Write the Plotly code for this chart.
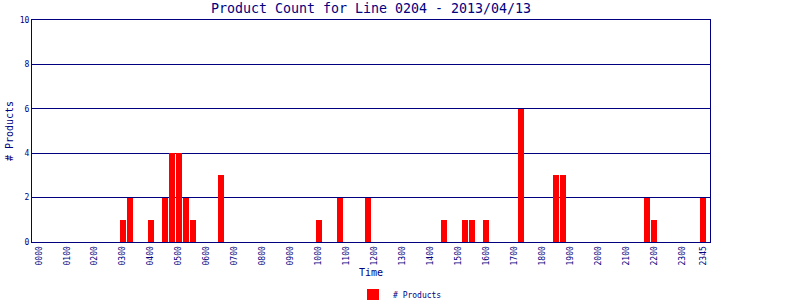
import plotly.graph_objects as go

# 15-minute bins from 0000 to 2345 (96 bins)
counts = [
    0, 0, 0, 0,   0, 0, 0, 0,   0, 0, 0, 0,   # 00-02
    1, 2, 0, 0,   1, 0, 2, 4,   4, 2, 1, 0,   # 03-05
    0, 0, 3, 0,   0, 0, 0, 0,   0, 0, 0, 0,   # 06-08
    0, 0, 0, 0,   1, 0, 0, 2,   0, 0, 0, 2,   # 09-11
    0, 0, 0, 0,   0, 0, 0, 0,   0, 0, 1, 0,   # 12-14
    0, 1, 1, 0,   1, 0, 0, 0,   0, 6, 0, 0,   # 15-17
    0, 0, 3, 3,   0, 0, 0, 0,   0, 0, 0, 0,   # 18-20
    0, 0, 0, 2,   1, 0, 0, 0,   0, 0, 0, 2,   # 21-23
]
bin_index = list(range(96))
tick_positions = [0, 4, 8, 12, 16, 20, 24, 28, 32, 36, 40, 44, 48, 52,
                  56, 60, 64, 68, 72, 76, 80, 84, 88, 92, 95]
tick_labels = ["0000", "0100", "0200", "0300", "0400", "0500", "0600",
               "0700", "0800", "0900", "1000", "1100", "1200", "1300",
               "1400", "1500", "1600", "1700", "1800", "1900", "2000",
               "2100", "2200", "2300", "2345"]

NAVY = "#000080"
MONO = "DejaVu Sans Mono"

fig = go.Figure(go.Bar(
    x=bin_index, y=counts, name="# Products",
    marker=dict(color="#FF0000", line=dict(width=0)),
    width=0.86, showlegend=True,
))

fig.update_layout(
    width=800, height=300,
    margin=dict(l=32, r=90, t=20, b=58, autoexpand=False),
    paper_bgcolor="white", plot_bgcolor="white",
    title=dict(text="Product Count for Line 0204 - 2013/04/13",
               x=0.5, xanchor="center", xref="paper",
               y=0.972, yanchor="middle", yref="container",
               font=dict(family=MONO, size=13.3, color=NAVY)),
    bargap=0,
    legend=dict(orientation="h", x=0.5, xanchor="center", xref="container",
                y=5 / 300, yanchor="middle", yref="container",
                font=dict(family=MONO, size=8, color=NAVY),
                itemwidth=30,
                bgcolor="rgba(0,0,0,0)"),
)
fig.update_xaxes(
    range=[-1, 96], tickmode="array", tickvals=tick_positions,
    ticktext=tick_labels, tickangle=-90,
    tickfont=dict(family=MONO, size=8, color=NAVY),
    showgrid=False, zeroline=False,
    showline=True, linecolor=NAVY, linewidth=1, mirror=True,
    ticks="", title=dict(text="Time", font=dict(family=MONO, size=10, color=NAVY),
                         standoff=4),
)
fig.update_yaxes(
    range=[0, 10], dtick=2, tickmode="linear", tick0=0,
    tickfont=dict(family=MONO, size=8, color=NAVY),
    showgrid=True, gridcolor=NAVY, gridwidth=1, zeroline=False,
    showline=True, linecolor=NAVY, linewidth=1, mirror=True,
    ticks="", title=dict(text="# Products", font=dict(family=MONO, size=10, color=NAVY),
                         standoff=4),
)

fig.write_html("out.html")
